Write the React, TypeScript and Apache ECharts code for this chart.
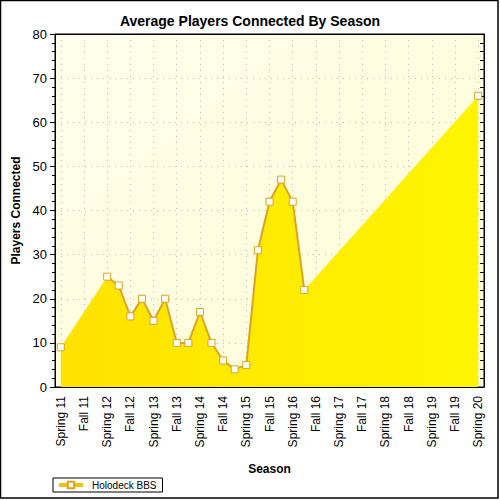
import React, { useEffect, useRef } from "react";
import * as echarts from "echarts";

const seasons = [
  "Spring 11", "Fall 11", "Spring 12", "Fall 12", "Spring 13", "Fall 13",
  "Spring 14", "Fall 14", "Spring 15", "Fall 15", "Spring 16", "Fall 16",
  "Spring 17", "Fall 17", "Spring 18", "Fall 18", "Spring 19", "Fall 19", "Spring 20",
];

// one slot per half season (season, then mid-season)
const players: (number | null)[] = [
  9, null, null, null, 25, 23, 16, 20, 15, 20, 10, 10, 17, 10, 6, 4, 5, 31, 42, 47, 42, 22,
  null, null, null, null, null, null, null, null, null, null, null, null, null, null, 66,
];

const seriesName = "Holodeck BBS";

const slots: string[] = [];
seasons.forEach((s, i) => {
  slots.push(s);
  if (i < seasons.length - 1) slots.push(s + " mid");
});

const FONT = "Liberation Sans";
const even = (i: number) => i % 2 === 0;

export default function App() {
  const ref = useRef<HTMLDivElement>(null);
  useEffect(() => {
    if (!ref.current) return;
    const chart = echarts.init(ref.current, null, { renderer: "svg" });
    const dotted = { color: "#bdbdbd", type: [1, 5] as any, width: 1 };
    const black = { color: "#000", width: 1 };
    chart.setOption({
      animation: false,
      backgroundColor: "#fff",
      textStyle: { fontFamily: FONT },
      title: {
        text: "Average Players Connected By Season",
        left: "center",
        top: 9,
        textStyle: { fontFamily: FONT, fontSize: 14, fontWeight: "bold", color: "#000" },
      },
      graphic: [
        {
          type: "rect",
          shape: { x: 0.5, y: 0.5, width: 497.5, height: 497.5 },
          style: { fill: "none", stroke: "#000", lineWidth: 1.5 },
          silent: true,
        },
      ],
      legend: {
        data: [seriesName],
        left: 53,
        bottom: 8,
        orient: "horizontal",
        borderColor: "#000",
        borderWidth: 1,
        borderRadius: 0,
        padding: [2, 6, 2, 4],
        itemWidth: 24,
        itemHeight: 8,
        itemGap: 5,
        lineStyle: { width: 4, color: "#f0c400" },
        textStyle: { fontFamily: FONT, fontSize: 10, color: "#000", padding: [0, 0, 0, 4] },
      },
      grid: {
        left: 55,
        right: 16,
        top: 34,
        bottom: 113,
        show: true,
        borderColor: "#000",
        borderWidth: 1,
        backgroundColor: {
          type: "linear", x: 0, y: 0, x2: 1, y2: 1,
          colorStops: [
            { offset: 0, color: "#ffffec" },
            { offset: 1, color: "#fffdd6" },
          ],
        },
      },
      xAxis: [
        {
          type: "category",
          data: slots,
          boundaryGap: true,
          position: "bottom",
          name: "Season",
          nameLocation: "middle",
          nameGap: 76,
          nameTextStyle: { fontFamily: FONT, fontSize: 12, fontWeight: "bold", color: "#000" },
          axisLine: { lineStyle: black },
          axisTick: { alignWithLabel: true, interval: even, length: 5, lineStyle: black },
          axisLabel: {
            interval: even,
            rotate: 90,
            margin: 9,
            fontFamily: FONT,
            fontSize: 12,
            color: "#000",
          },
          splitLine: { show: true, alignWithLabel: true, interval: even, lineStyle: dotted },
        },
        {
          type: "category",
          data: slots,
          boundaryGap: true,
          position: "bottom",
          axisLine: { show: false },
          axisTick: { alignWithLabel: true, interval: 0, length: 3, lineStyle: black },
          axisLabel: { show: false },
          splitLine: { show: false },
        },
        {
          type: "category",
          data: slots,
          boundaryGap: true,
          position: "top",
          axisLine: { lineStyle: black },
          axisTick: { alignWithLabel: true, interval: 0, inside: true, length: 4, lineStyle: black },
          axisLabel: { show: false },
          splitLine: { show: false },
        },
      ],
      yAxis: [
        {
          type: "value",
          min: 0,
          max: 80,
          interval: 10,
          position: "left",
          name: "Players Connected",
          nameLocation: "middle",
          nameGap: 33,
          nameTextStyle: { fontFamily: FONT, fontSize: 12, fontWeight: "bold", color: "#000" },
          axisLine: { show: true, lineStyle: black },
          axisTick: { show: true, length: 5, lineStyle: black },
          minorTick: { show: true, splitNumber: 5, length: 3, lineStyle: black },
          axisLabel: { fontFamily: FONT, fontSize: 13, color: "#000", margin: 8 },
          splitLine: { show: true, lineStyle: dotted },
        },
        {
          type: "value",
          min: 0,
          max: 80,
          interval: 10,
          position: "right",
          axisLine: { show: true, lineStyle: black },
          axisTick: { show: true, inside: true, length: 4, lineStyle: black },
          minorTick: { show: true, splitNumber: 5, length: 4, lineStyle: black },
          axisLabel: { show: false },
          splitLine: { show: false },
        },
      ],
      series: [
        {
          name: seriesName + " area",
          type: "line",
          data: players,
          connectNulls: true,
          symbol: "none",
          lineStyle: { width: 0 },
          areaStyle: {
            opacity: 1,
            color: {
              type: "linear", x: 0, y: 0, x2: 1, y2: 0,
              colorStops: [
                { offset: 0, color: "#ffe200" },
                { offset: 1, color: "#fff500" },
              ],
            },
          },
          silent: true,
          z: 1,
        },
        {
          name: seriesName,
          type: "line",
          data: players,
          connectNulls: false,
          symbol: "rect",
          symbolSize: 7,
          showAllSymbol: true,
          lineStyle: { color: "#daa520", width: 2 },
          itemStyle: { color: "#fff", borderColor: "#daa520", borderWidth: 1 },
          z: 3,
        },
      ],
    });
    return () => chart.dispose();
  }, []);
  return (
    <div
      ref={ref}
      style={{ position: "fixed", left: 0, top: 0, width: 500, height: 500 }}
    />
  );
}
